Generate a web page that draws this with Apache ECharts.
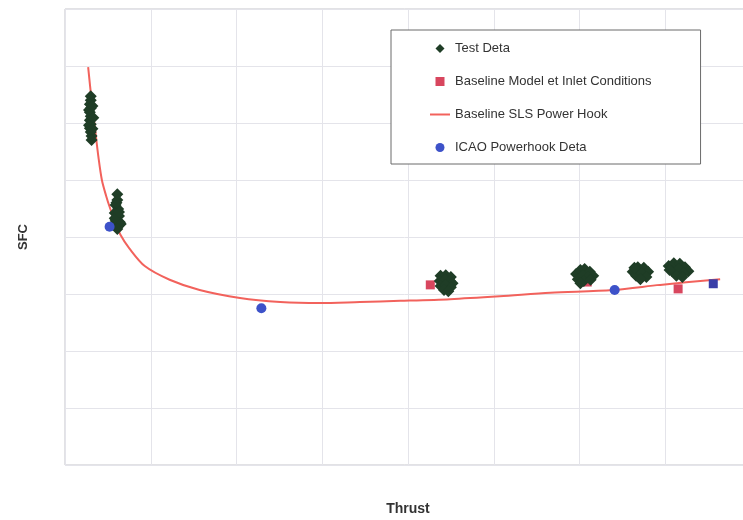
<!DOCTYPE html>
<html>
<head>
<meta charset="utf-8">
<script src="https://cdn.jsdelivr.net/npm/echarts@6/dist/echarts.min.js"></script>
<style>html,body{margin:0;padding:0;background:#fff}#c{width:743px;height:520px}</style>
</head>
<body>
<div id="c"></div>
<script>
var seriesNames = ['Test Deta', 'Baseline Model et Inlet Conditions', 'Baseline SLS Power Hook', 'ICAO Powerhook Deta'];
var testData = [
  [0.30,6.47],[0.30,6.40],[0.29,6.33],[0.30,6.26],[0.29,6.19],[0.30,6.12],[0.29,6.05],[0.30,5.98],[0.29,5.91],[0.30,5.84],[0.31,5.77],[0.31,5.70],[0.28,6.23],[0.33,6.09],[0.28,5.96],[0.32,6.30],[0.32,5.90],
  [0.61,4.75],[0.61,4.65],[0.59,4.56],[0.62,4.49],[0.58,4.42],[0.63,4.37],[0.59,4.30],[0.64,4.26],[0.57,4.23],[0.62,4.19],[0.65,4.23],[0.61,4.14],[0.58,4.33],[0.63,4.44],[0.60,4.60],
  [4.38,3.32],[4.44,3.33],[4.50,3.30],[4.37,3.23],[4.43,3.25],[4.49,3.23],[4.52,3.19],[4.38,3.14],[4.44,3.16],[4.50,3.12],[4.42,3.07],[4.47,3.05],
  [5.96,3.35],[6.01,3.42],[6.06,3.44],[6.12,3.39],[6.16,3.32],[5.98,3.26],[6.04,3.33],[6.10,3.30],[6.05,3.23],[6.13,3.25],[6.01,3.19],
  [6.62,3.39],[6.68,3.47],[6.75,3.46],[6.80,3.39],[6.66,3.32],[6.72,3.37],[6.78,3.30],[6.71,3.26],[6.64,3.46],
  [7.04,3.49],[7.10,3.54],[7.17,3.53],[7.23,3.47],[7.27,3.40],[7.08,3.40],[7.15,3.44],[7.21,3.37],[7.13,3.32],[7.20,3.30],[7.05,3.42]
];
var baselineModel = [[4.26,3.16],[6.09,3.21],[7.15,3.09]];
var powerHook = [
  [0.27,6.98],[0.31,6.40],[0.35,5.90],[0.39,5.40],[0.43,5.00],[0.48,4.72],[0.52,4.53],[0.58,4.28],[0.65,4.03],[0.75,3.80],[0.93,3.49],[1.22,3.25],[1.57,3.07],[2.04,2.93],[2.51,2.86],[2.97,2.84],[3.44,2.86],[3.91,2.88],[4.49,2.91],[5.07,2.96],[5.66,3.02],[6.39,3.07],[6.94,3.16],[7.64,3.26]
];
var icaoData = [[0.52,4.18],[2.29,2.75],[6.41,3.07],[7.56,3.18]];
var axisNames = ['Thrust', 'SFC'];

var iconDiamond = 'path://M5,0L10,5L5,10L0,5Z';
var iconRect = 'path://M0,0H10V10H0Z';
var iconCircle = 'path://M5,0A5,5,0,1,1,5,10A5,5,0,1,1,5,0Z';
var iconLine = 'path://M0,0H20V2H0Z';

var chart = echarts.init(document.getElementById('c'), null, {renderer: 'canvas'});
var gridColor = '#e4e4ea';
chart.setOption({
  animation: false,
  backgroundColor: '#ffffff',
  textStyle: {fontFamily: 'Liberation Sans, Arial, sans-serif'},
  grid: {left: 65, top: 9, right: -8, bottom: 55, show: true, borderColor: '#c4c4ca', borderWidth: 1, containLabel: false, outerBoundsMode: 'none'},
  legend: {
    orient: 'vertical', left: 391, top: 30,
    padding: [12, 49, 10, 39], itemGap: 20, itemWidth: 20, itemHeight: 9, symbolKeepAspect: true,
    borderColor: '#6a6a6a', borderWidth: 1, backgroundColor: '#fff',
    textStyle: {fontSize: 13, color: '#333', fontFamily: 'Liberation Sans, Arial, sans-serif'},
    data: [
      {name: seriesNames[0], icon: iconDiamond, itemStyle: {color: '#1f3d26'}},
      {name: seriesNames[1], icon: iconRect},
      {name: seriesNames[2], icon: iconLine},
      {name: seriesNames[3], icon: iconCircle}
    ]
  },
  xAxis: {
    type: 'value', min: 0, max: 8, interval: 1,
    name: axisNames[0], nameLocation: 'middle', nameGap: 37,
    nameTextStyle: {fontSize: 14, fontWeight: 'bold', color: '#333'},
    axisLine: {show: false}, axisTick: {show: false}, axisLabel: {show: false},
    splitLine: {show: true, lineStyle: {color: gridColor, width: 1}}
  },
  yAxis: {
    type: 'value', min: 0, max: 8, interval: 1,
    name: axisNames[1], nameLocation: 'middle', nameGap: 35,
    nameTextStyle: {fontSize: 13, fontWeight: 'bold', color: '#333'},
    axisLine: {show: false}, axisTick: {show: false}, axisLabel: {show: false},
    splitLine: {show: true, lineStyle: {color: gridColor, width: 1}}
  },
  series: [
    {
      name: seriesNames[2], type: 'line', data: powerHook, smooth: 0.3, showSymbol: false, symbol: 'none',
      lineStyle: {color: '#f2625c', width: 2}, itemStyle: {color: '#f2625c'}, z: 2
    },
    {
      name: seriesNames[1], type: 'scatter', data: baselineModel, symbol: 'rect', symbolSize: 9,
      itemStyle: {color: '#d8465e', opacity: 1}, z: 3
    },
    {
      name: seriesNames[0], type: 'scatter', data: testData, symbol: 'diamond', symbolSize: 12,
      itemStyle: {color: '#1f3d26', opacity: 1}, z: 4
    },
    {
      name: seriesNames[3], type: 'scatter',
      data: icaoData.map(function (d, i) {
        return i === icaoData.length - 1 ? {value: d, symbol: 'rect', symbolSize: 9, itemStyle: {color: '#3a3ea8'}} : d;
      }),
      symbol: 'circle', symbolSize: 10,
      itemStyle: {color: '#3d52c9', opacity: 1}, z: 5
    }
  ]
});
</script>
</body>
</html>
